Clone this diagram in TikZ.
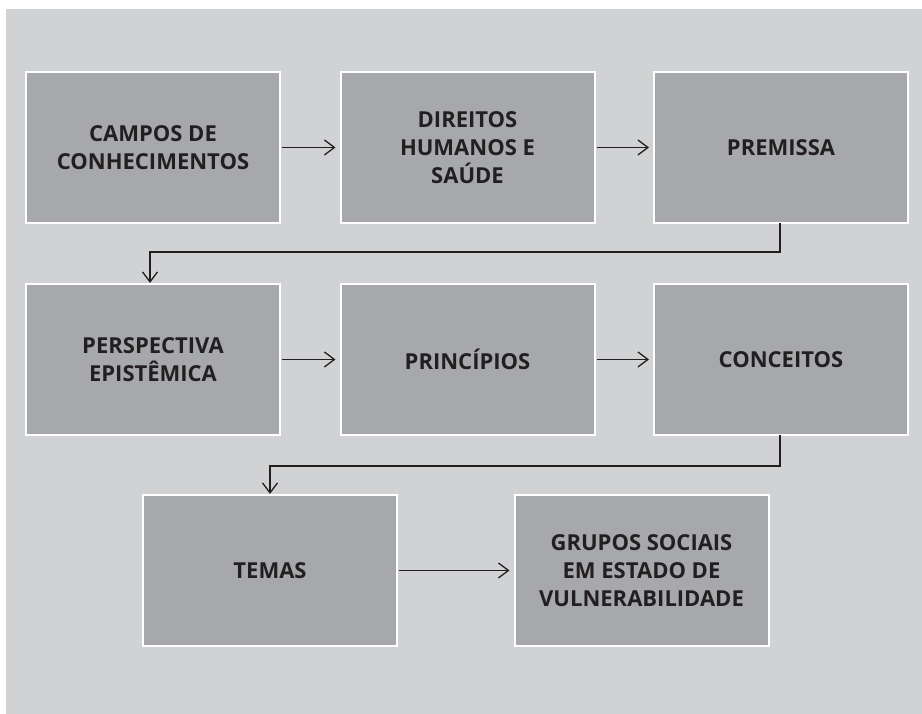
\documentclass[tikz,border=0pt]{standalone}
\usepackage{fontspec}
\setmainfont{Open Sans}
\usetikzlibrary{arrows.meta}
\definecolor{panel}{HTML}{D1D2D4}
\definecolor{boxfill}{HTML}{A7A8AB}
\definecolor{ink}{HTML}{231F20}
\tikzset{
  stepbox/.style={rectangle, fill=boxfill, draw=white, line width=2pt,
    minimum width=254pt, minimum height=151pt, inner sep=0pt, outer sep=0pt,
    align=center, text=ink, font=\bfseries\fontsize{22}{28}\selectfont},
  conn/.style={draw=ink, line width=1.3pt,
    -{Straight Barb[length=10pt,width=15pt,line width=1.3pt]}},
}
\begin{document}
\begin{tikzpicture}[x=1pt,y=1pt]
\useasboundingbox (0,0) rectangle (922,714);
\fill[white] (0,0) rectangle (922,714);
\fill[panel] (6,0) rectangle (922,705);
\node[stepbox] (c1) at (153,566.5) {CAMPOS DE\\CONHECIMENTOS};
\node[stepbox] (c2) at (467.5,566.5) {DIREITOS\\HUMANOS E\\SAÚDE};
\node[stepbox] (c3) at (781,566.5) {PREMISSA};
\node[stepbox] (c4) at (153,354.5) {PERSPECTIVA\\EPISTÊMICA};
\node[stepbox] (c5) at (467.5,354.5) {PRINCÍPIOS};
\node[stepbox] (c6) at (781,354.5) {CONCEITOS};
\node[stepbox] (c7) at (270,143.5) {TEMAS};
\node[stepbox] (c8) at (641.5,143.5) {GRUPOS SOCIAIS\\EM ESTADO DE\\VULNERABILIDADE};
\draw[conn, shorten <=2pt, shorten >=5pt] (c1) -- (c2);
\draw[conn, shorten <=2pt, shorten >=5pt] (c2) -- (c3);
\draw[conn, shorten <=2pt, shorten >=5pt] (c4) -- (c5);
\draw[conn, shorten <=2pt, shorten >=5pt] (c5) -- (c6);
\draw[conn, shorten <=2pt, shorten >=5pt] (c7) -- (c8);
\draw[conn, shorten >=1pt] ([xshift=-1pt]c3.south) -- ++(0,-29) -| ([xshift=-3pt]c4.north);
\draw[conn, shorten >=1pt] ([xshift=-1pt]c6.south) -- ++(0,-31) -| (c7.north);
\end{tikzpicture}
\end{document}
